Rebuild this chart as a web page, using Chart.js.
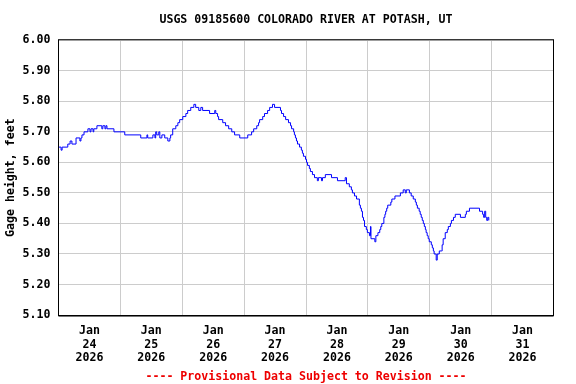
<!DOCTYPE html>
<html>
<head>
<meta charset="utf-8">
<script src="https://cdn.jsdelivr.net/npm/chart.js@4/dist/chart.umd.min.js"></script>
<style>
  html, body { margin: 0; padding: 0; background: #ffffff; }
  #wrap { width: 576px; height: 384px; }
</style>
</head>
<body>
<div id="wrap"><canvas id="c" width="576" height="384"></canvas></div>
<script>
// Hours after 2026-01-24 00:00 at which the gage height (ft) changes to the given value
const hours = [
  0.0, 1.0, 1.4, 3.6, 4.5, 5.2, 6.8, 8.3, 8.7, 9.1, 9.9, 11.4, 12.2, 12.6, 13.4, 13.7,
  14.9, 16.8, 17.2, 18.0, 18.4, 18.8, 21.5, 25.7, 31.9, 34.3, 34.6, 36.6, 37.4, 37.7,
  38.1, 38.9, 39.3, 40.1, 41.2, 42.4, 43.2, 43.5, 44.3, 45.5, 46.3, 47.0, 48.2, 49.4,
  50.1, 51.3, 52.5, 53.2, 54.4, 55.2, 55.9, 58.6, 60.6, 61.0, 61.7, 62.1, 63.7, 64.8,
  66.0, 67.2, 68.3, 70.3, 73.4, 74.9, 75.7, 76.9, 77.6, 78.0, 79.2, 79.9, 81.1, 81.9,
  83.0, 83.8, 86.1, 86.5, 87.3, 88.1, 89.2, 90.0, 90.4, 91.2, 91.5, 91.9, 92.3, 92.7,
  93.5, 94.2, 94.6, 95.0, 95.8, 96.2, 96.6, 97.3, 97.7, 98.5, 99.3, 100.4, 100.8, 102.0,
  102.4, 103.5, 105.9, 108.2, 111.2, 111.7, 112.8, 113.6, 114.0, 114.8, 115.6, 116.7,
  117.1, 117.5, 117.9, 118.3, 118.7, 119.4, 119.8, 120.6, 121.0, 121.2, 122.7, 123.1,
  123.9, 124.6, 125.0, 125.4, 126.2, 126.6, 126.9, 127.3, 127.7, 128.9, 129.3, 130.5,
  132.6, 133.7, 134.5, 134.9, 136.1, 136.8, 137.6, 138.4, 138.8, 139.2, 139.9, 140.3,
  140.7, 141.1, 141.5, 141.9, 142.3, 142.6, 143.0, 143.4, 143.8, 144.6, 145.0, 145.4,
  145.7, 146.5, 146.9, 147.7, 148.5, 148.8, 149.2, 150.0, 150.8, 151.2, 152.0, 152.4,
  153.2, 153.9, 155.9, 157.8, 158.2, 159.4, 163.3, 164.5, 164.9, 165.3, 165.7, 166.1,
  166.5, 166.9
];
const gageFt = [
  5.65, 5.64, 5.65, 5.66, 5.67, 5.66, 5.68, 5.67, 5.68, 5.69, 5.70, 5.71, 5.70, 5.71, 5.70, 5.71,
  5.72, 5.71, 5.72, 5.71, 5.72, 5.71, 5.70, 5.69, 5.68, 5.69, 5.68, 5.69, 5.68, 5.70,
  5.69, 5.70, 5.68, 5.69, 5.68, 5.67, 5.68, 5.69, 5.71, 5.72, 5.73, 5.74, 5.75, 5.76,
  5.77, 5.78, 5.79, 5.78, 5.77, 5.78, 5.77, 5.76, 5.77, 5.76, 5.75, 5.74, 5.73, 5.72,
  5.71, 5.70, 5.69, 5.68, 5.69, 5.70, 5.71, 5.72, 5.73, 5.74, 5.75, 5.76, 5.77, 5.78,
  5.79, 5.78, 5.77, 5.76, 5.75, 5.74, 5.73, 5.72, 5.71, 5.70, 5.69, 5.68, 5.67, 5.66,
  5.65, 5.64, 5.63, 5.62, 5.61, 5.60, 5.59, 5.58, 5.57, 5.56, 5.55, 5.54, 5.55, 5.54,
  5.55, 5.56, 5.55, 5.54, 5.55, 5.53, 5.52, 5.51, 5.50, 5.49, 5.48, 5.46,
  5.45, 5.44, 5.42, 5.41, 5.39, 5.38, 5.37, 5.36, 5.39, 5.35, 5.34, 5.36,
  5.37, 5.38, 5.39, 5.40, 5.42, 5.43, 5.44, 5.45, 5.46, 5.47, 5.48, 5.49,
  5.50, 5.51, 5.50, 5.51, 5.50, 5.49, 5.48, 5.47, 5.46, 5.45, 5.44, 5.43,
  5.42, 5.41, 5.40, 5.39, 5.38, 5.37, 5.36, 5.35, 5.34, 5.33, 5.32, 5.31,
  5.30, 5.28, 5.30, 5.31, 5.31, 5.33, 5.35, 5.37, 5.38, 5.39, 5.40, 5.41,
  5.42, 5.43, 5.42, 5.43, 5.44, 5.45, 5.44, 5.43, 5.42, 5.44, 5.42, 5.41,
  5.42, 5.41
];
const tickMonth = 'Jan';
const tickDays = ['24', '25', '26', '27', '28', '29', '30', '31'];
const tickYear = '2026';
const yTickValues = [5.10, 5.20, 5.30, 5.40, 5.50, 5.60, 5.70, 5.80, 5.90, 6.00];

const titleText = 'USGS 09185600 COLORADO RIVER AT POTASH, UT';
const footerText = '---- Provisional Data Subject to Revision ----';
const yTitle = 'Gage height, feet';

const FONT = "'DejaVu Sans Mono', 'Liberation Mono', monospace";
const points = hours.map((h, i) => ({ x: h, y: gageFt[i] }));

const framePlugin = {
  id: 'frame',
  afterDatasetsDraw(chart) {
    const { ctx, chartArea: a } = chart;
    ctx.save();
    ctx.strokeStyle = '#000000';
    ctx.lineWidth = 1;
    ctx.strokeRect(a.left, a.top - 0.5, a.right - a.left, a.bottom - a.top + 1);
    ctx.lineWidth = 1.5;
    ctx.beginPath();
    ctx.moveTo(a.left, a.bottom + 0.75);
    ctx.lineTo(a.right, a.bottom + 0.75);
    ctx.stroke();
    ctx.restore();
  }
};

new Chart(document.getElementById('c'), {
  type: 'line',
  data: {
    datasets: [{
      data: points,
      borderColor: '#0000ff',
      borderWidth: 1,
      pointRadius: 0,
      stepped: 'before',
      fill: false
    }]
  },
  plugins: [framePlugin],
  options: {
    responsive: false,
    animation: false,
    layout: { padding: { left: 0, right: 22.5, top: 0, bottom: 0 } },
    plugins: {
      legend: { display: false },
      tooltip: { enabled: false },
      title: {
        display: true,
        text: titleText,
        fullSize: false,
        color: '#000000',
        font: { family: FONT, size: 11.6, weight: 'bold', lineHeight: 1.2 },
        padding: { top: 13, bottom: 13.3 }
      },
      subtitle: {
        display: true,
        position: 'bottom',
        text: footerText,
        fullSize: false,
        color: '#ee0000',
        font: { family: FONT, size: 11.6, weight: 'bold', lineHeight: 1.2 },
        padding: { top: 9, bottom: 0 }
      }
    },
    scales: {
      x: {
        type: 'linear',
        min: 0,
        max: 192,
        afterBuildTicks(scale) {
          const t = [];
          for (let i = 0; i <= tickDays.length * 2; i++) t.push({ value: i * 12 });
          scale.ticks = t;
        },
        afterFit(scale) { scale.height = 46; },
        border: { display: false },
        grid: {
          drawTicks: false,
          lineWidth: 1,
          color(ctx) {
            const v = ctx.tick ? ctx.tick.value : -1;
            return (v % 24 === 0 && v > 0 && v < 192) ? '#cccccc' : 'rgba(0,0,0,0)';
          }
        },
        ticks: {
          autoSkip: false,
          maxRotation: 0,
          minRotation: 0,
          padding: 9.5,
          color: '#000000',
          font: { family: FONT, size: 11.6, weight: 'bold', lineHeight: 1.15 },
          callback(v) {
            if (v % 24 === 12) {
              const d = tickDays[Math.floor(v / 24)];
              return [tickMonth, d, tickYear];
            }
            return '';
          }
        }
      },
      y: {
        type: 'linear',
        min: 5.10,
        max: 6.00,
        afterBuildTicks(scale) {
          scale.ticks = yTickValues.map(v => ({ value: v }));
        },
        afterFit(scale) { scale.width = 58.5; },
        border: { display: false },
        grid: {
          drawTicks: false,
          lineWidth: 1,
          color: '#cccccc'
        },
        ticks: {
          padding: 8,
          color: '#000000',
          font: { family: FONT, size: 11.6, weight: 'bold' },
          callback(v) { return Number(v).toFixed(2); }
        },
        title: {
          display: true,
          text: yTitle,
          color: '#000000',
          font: { family: FONT, size: 11.6, weight: 'bold', lineHeight: 1.2 },
          padding: { top: 4, bottom: 0 }
        }
      }
    }
  }
});
</script>
</body>
</html>
